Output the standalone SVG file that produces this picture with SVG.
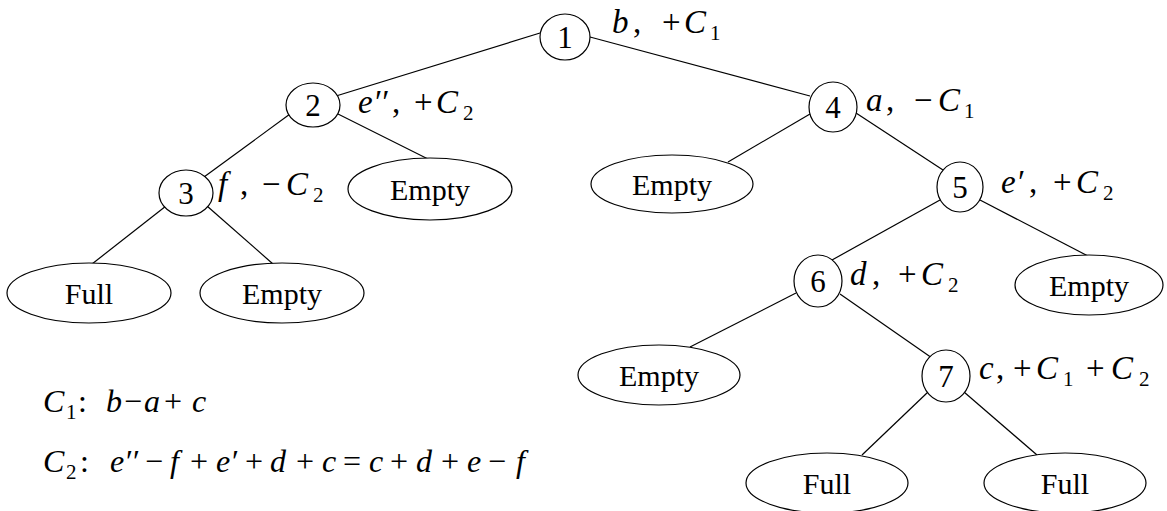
<svg xmlns="http://www.w3.org/2000/svg" width="1167" height="511" viewBox="0 0 1167 511">
<style>
.n{fill:#fff;stroke:#000;stroke-width:1.2}
.e{stroke:#000;stroke-width:1.2;fill:none}
.t{font-size:30px;text-anchor:middle;fill:#000}
.d{font-size:31px}
.m{font-size:33px;fill:#000}
.f{font-size:32px;fill:#000}
.i{font-style:italic}
.s{font-size:21px}
</style>
<rect width="1167" height="511" fill="#fff"/>
<g id="connectors" class="e">
<line x1="540" y1="33" x2="336" y2="96"/>
<line x1="590" y1="37" x2="810" y2="96"/>
<line x1="290" y1="114" x2="204" y2="177"/>
<line x1="338" y1="114" x2="428" y2="159"/>
<line x1="166" y1="206" x2="92" y2="264"/>
<line x1="207" y1="206" x2="273" y2="264"/>
<line x1="810" y1="114" x2="728" y2="162"/>
<line x1="856" y1="113" x2="943" y2="170"/>
<line x1="940" y1="200" x2="832" y2="260"/>
<line x1="980" y1="200" x2="1088" y2="256"/>
<line x1="796" y1="293" x2="690" y2="347"/>
<line x1="840" y1="294" x2="932" y2="358"/>
<line x1="928" y1="392" x2="862" y2="455"/>
<line x1="964" y1="392" x2="1037" y2="455"/>
</g>
<g font-family="Liberation Serif, Times New Roman, serif">
<g id="node1"><ellipse class="n" cx="565" cy="37" rx="25" ry="23"/><text class="t d" x="565" y="48">1</text></g>
<g id="node2"><ellipse class="n" cx="313" cy="105" rx="27" ry="22"/><text class="t d" x="313" y="116">2</text></g>
<g id="node3"><ellipse class="n" cx="186" cy="193" rx="27" ry="23"/><text class="t d" x="186" y="204">3</text></g>
<g id="node4"><ellipse class="n" cx="833" cy="107" rx="24" ry="25"/><text class="t d" x="833" y="118">4</text></g>
<g id="node5"><ellipse class="n" cx="960" cy="187" rx="23" ry="25"/><text class="t d" x="960" y="198">5</text></g>
<g id="node6"><ellipse class="n" cx="818" cy="281" rx="24" ry="26"/><text class="t d" x="818" y="292">6</text></g>
<g id="node7"><ellipse class="n" cx="946" cy="376" rx="24" ry="26"/><text class="t d" x="946" y="387">7</text></g>
<g id="leaf2r"><ellipse class="n" cx="430" cy="189" rx="82" ry="31"/><text class="t" x="430" y="200">Empty</text></g>
<g id="leaf3l"><ellipse class="n" cx="89" cy="293" rx="82" ry="30"/><text class="t" x="89" y="304">Full</text></g>
<g id="leaf3r"><ellipse class="n" cx="282" cy="293" rx="82" ry="30"/><text class="t" x="282" y="304">Empty</text></g>
<g id="leaf4l"><ellipse class="n" cx="672" cy="184" rx="81" ry="29"/><text class="t" x="672" y="195">Empty</text></g>
<g id="leaf5r"><ellipse class="n" cx="1089" cy="285" rx="74" ry="30"/><text class="t" x="1089" y="296">Empty</text></g>
<g id="leaf6l"><ellipse class="n" cx="659" cy="375" rx="81" ry="30"/><text class="t" x="659" y="386">Empty</text></g>
<g id="leaf7l"><ellipse class="n" cx="827" cy="483" rx="81" ry="30"/><text class="t" x="827" y="494">Full</text></g>
<g id="leaf7r"><ellipse class="n" cx="1065" cy="483" rx="81" ry="30"/><text class="t" x="1065" y="494">Full</text></g>
<g id="labels">
<text class="m" y="33"><tspan x="612" class="i">b</tspan><tspan x="633">,</tspan><tspan x="662">+</tspan><tspan x="684" class="i">C</tspan><tspan x="710" dy="7" class="s">1</tspan></text>
<text class="m" y="113"><tspan x="358" class="i">e</tspan><tspan x="373" class="i">′′</tspan><tspan x="392">,</tspan><tspan x="414">+</tspan><tspan x="436" class="i">C</tspan><tspan x="463" dy="7" class="s">2</tspan></text>
<text class="m" y="195"><tspan x="218" class="i">f</tspan><tspan x="240">,</tspan><tspan x="262">−</tspan><tspan x="286" class="i">C</tspan><tspan x="313" dy="7" class="s">2</tspan></text>
<text class="m" y="111"><tspan x="866" class="i">a</tspan><tspan x="886">,</tspan><tspan x="914">−</tspan><tspan x="938" class="i">C</tspan><tspan x="964" dy="7" class="s">1</tspan></text>
<text class="m" y="193"><tspan x="1001" class="i">e</tspan><tspan x="1016" class="i">′</tspan><tspan x="1029">,</tspan><tspan x="1053">+</tspan><tspan x="1076" class="i">C</tspan><tspan x="1103" dy="7" class="s">2</tspan></text>
<text class="m" y="285"><tspan x="850" class="i">d</tspan><tspan x="872">,</tspan><tspan x="898">+</tspan><tspan x="921" class="i">C</tspan><tspan x="948" dy="7" class="s">2</tspan></text>
<text class="m" y="379"><tspan x="979" class="i">c</tspan><tspan x="996">,</tspan><tspan x="1013">+</tspan><tspan x="1036" class="i">C</tspan><tspan x="1063" dy="7" class="s">1</tspan><tspan x="1086" dy="-7">+</tspan><tspan x="1111" class="i">C</tspan><tspan x="1139" dy="7" class="s">2</tspan></text>
</g>
<g id="formulas">
<text class="f" y="412"><tspan x="43" class="i">C</tspan><tspan x="66" dy="7" class="s">1</tspan><tspan x="78" dy="-7">:</tspan><tspan x="106" class="i">b</tspan><tspan x="124">−</tspan><tspan x="144" class="i">a</tspan><tspan x="164">+</tspan><tspan x="192" class="i">c</tspan></text>
<text class="f" y="472"><tspan x="43" class="i">C</tspan><tspan x="66" dy="7" class="s">2</tspan><tspan x="80" dy="-7">:</tspan><tspan x="110" class="i">e</tspan><tspan x="124" class="i">′′</tspan><tspan x="145">−</tspan><tspan x="170" class="i">f</tspan><tspan x="190">+</tspan><tspan x="216" class="i">e</tspan><tspan x="230" class="i">′</tspan><tspan x="245">+</tspan><tspan x="270" class="i">d</tspan><tspan x="296">+</tspan><tspan x="322" class="i">c</tspan><tspan x="343">=</tspan><tspan x="369" class="i">c</tspan><tspan x="390">+</tspan><tspan x="416" class="i">d</tspan><tspan x="441">+</tspan><tspan x="467" class="i">e</tspan><tspan x="488">−</tspan><tspan x="516" class="i">f</tspan></text>
</g>
</g>
</svg>
